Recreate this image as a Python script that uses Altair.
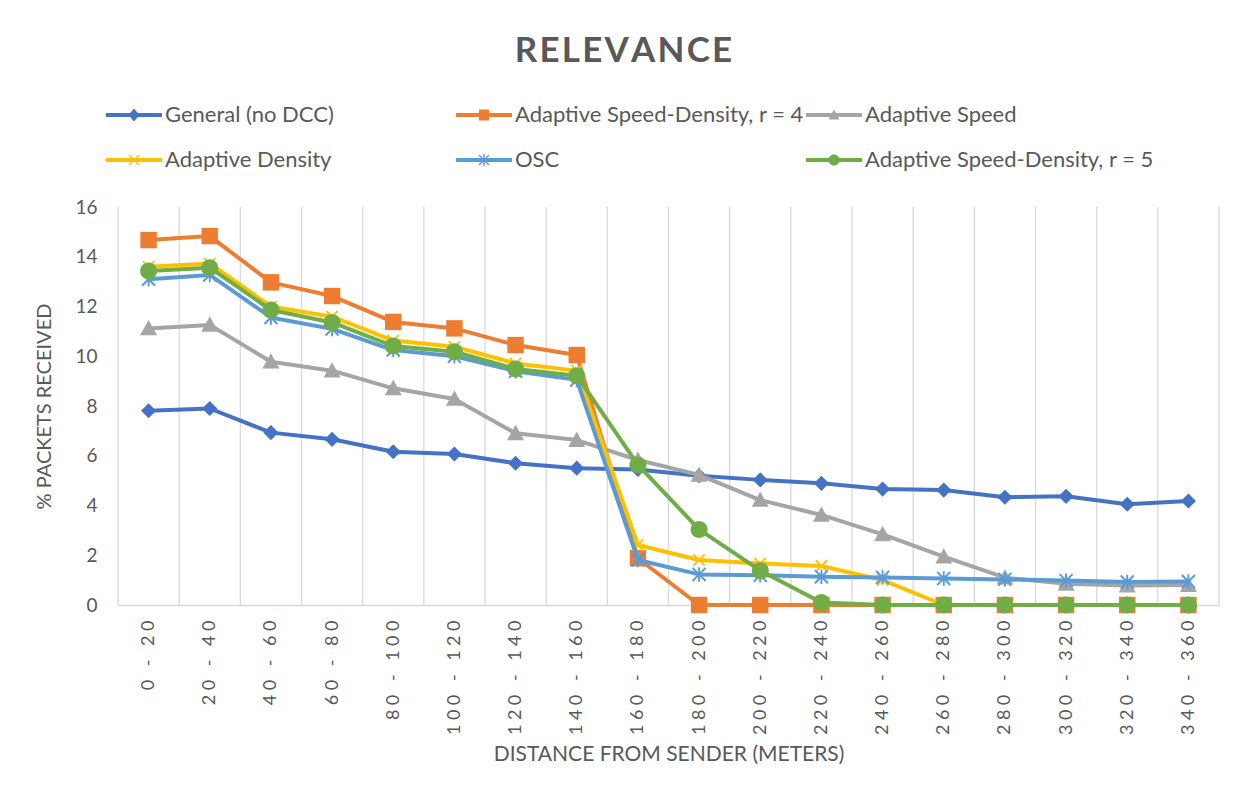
import altair as alt
import pandas as pd

categories = ["0 - 20", "20 - 40", "40 - 60", "60 - 80", "80 - 100", "100 - 120",
              "120 - 140", "140 - 160", "160 - 180", "180 - 200", "200 - 220", "220 - 240",
              "240 - 260", "260 - 280", "280 - 300", "300 - 320", "320 - 340", "340 - 360"]

series_names = ["General (no DCC)", "Adaptive Speed-Density, r = 4", "Adaptive Speed",
                "Adaptive Density", "OSC", "Adaptive Speed-Density, r = 5"]

general = [7.81, 7.90, 6.93, 6.66, 6.16, 6.07, 5.70, 5.50, 5.45, 5.20, 5.03, 4.89, 4.66, 4.62, 4.33, 4.37, 4.05, 4.18]
asd_r4 = [14.67, 14.83, 12.97, 12.42, 11.38, 11.12, 10.45, 10.05, 1.88, 0, 0, 0, 0, 0, 0, 0, 0, 0]
adaptive_speed = [11.12, 11.26, 9.78, 9.42, 8.71, 8.28, 6.90, 6.63, 5.83, 5.23, 4.22, 3.62, 2.84, 1.94, 1.10, 0.85, 0.78, 0.80]
adaptive_density = [13.60, 13.73, 12.00, 11.59, 10.63, 10.38, 9.71, 9.42, 2.41, 1.81, 1.67, 1.57, 1.00, 0, 0, 0, 0, 0]
osc = [13.10, 13.27, 11.56, 11.10, 10.25, 10.00, 9.40, 9.05, 1.81, 1.23, 1.20, 1.14, 1.11, 1.07, 1.03, 0.98, 0.92, 0.94]
asd_r5 = [13.43, 13.56, 11.86, 11.36, 10.41, 10.18, 9.49, 9.22, 5.63, 3.04, 1.38, 0.10, 0, 0, 0, 0, 0, 0]

series_values = [general, asd_r4, adaptive_speed, adaptive_density, osc, asd_r5]
colors = ["#4472C4", "#ED7D31", "#A5A5A5", "#FFC000", "#5B9BD5", "#70AD47"]

# marker shapes (unit square -1..1)
DIAMOND = "M0,-1L1,0L0,1L-1,0Z"
SQUARE = "M-1,-1L1,-1L1,1L-1,1Z"
TRIANGLE = "M0,-1L1,0.8L-1,0.8Z"
CIRCLE = "M1,0A1,1,0,1,1,-1,0A1,1,0,1,1,1,0Z"
XMARK = "M-1,-0.8L-0.8,-1L1,0.8L0.8,1Z M0.8,-1L1,-0.8L-0.8,1L-1,0.8Z"
ASTER = XMARK + " M-0.13,-1L0.13,-1L0.13,1L-0.13,1Z"
marker_paths = [DIAMOND, SQUARE, TRIANGLE, XMARK, ASTER, CIRCLE]
marker_sizes = [230, 270, 289, 160, 210, 289]

LINE = "M-5.6,-0.4L5.6,-0.4L5.6,0.4L-5.6,0.4Z"
XL = "M-1.1,-0.9L-0.9,-1.1L1.1,0.9L0.9,1.1Z M0.9,-1.1L1.1,-0.9L-0.9,1.1L-1.1,0.9Z"
legend_paths = [LINE + " M0,-1.3L1.1,0L0,1.3L-1.1,0Z",
                LINE + " M-1,-1.1L1,-1.1L1,1.1L-1,1.1Z",
                LINE + " M0,-1.1L1.1,0.9L-1.1,0.9Z",
                LINE + " " + XL,
                LINE + " " + XL + " M-0.15,-1.2L0.15,-1.2L0.15,1.2L-0.15,1.2Z",
                LINE + " M1.1,0A1.1,1.1,0,1,1,-1.1,0A1.1,1.1,0,1,1,1.1,0Z"]

rows = []
for name, vals in zip(series_names, series_values):
    for i, v in enumerate(vals):
        rows.append({"idx": i, "cat": categories[i], "series": name, "value": v})
df = pd.DataFrame(rows)

grid_df = pd.DataFrame({"b": [i - 0.5 for i in range(len(categories) + 1)]})

FONT = "Lato"
TXT = "#595959"
SP = "\u2005"
spaced = [SP.join(list(c)) for c in categories]
label_expr = "[" + ",".join("'" + s + "'" for s in spaced) + "][datum.value]"

x_scale = alt.Scale(domain=[-0.5, len(categories) - 0.5], nice=False, zero=False)
x_axis = alt.Axis(values=list(range(len(categories))), labelExpr=label_expr, labelAngle=270,
                  grid=False, ticks=False, domain=True, domainColor="#D9D9D9", domainWidth=1.3,
                  labelPadding=15, labelFontSize=18, labelFont=FONT, labelColor=TXT,
                  labelOverlap=False, labelFlush=False,
                  title="DISTANCE FROM SENDER (METERS)", titleFont=FONT, titleFontSize=21,
                  titleFontWeight="normal", titleColor=TXT, titlePadding=9)
y_scale = alt.Scale(domain=[0, 16], nice=False, zero=True)
y_axis = alt.Axis(values=list(range(0, 17, 2)), grid=False, ticks=False, domain=False,
                  labelPadding=21, labelFontSize=19, labelFont=FONT, labelColor=TXT,
                  title="% PACKETS RECEIVED", titleFont=FONT, titleFontSize=20,
                  titleFontWeight="normal", titleColor=TXT, titlePadding=20)

X = alt.X("idx:Q", scale=x_scale, axis=x_axis)
Y = alt.Y("value:Q", scale=y_scale, axis=y_axis)

layers = []
layers.append(alt.Chart(grid_df).mark_rule(color="#D9D9D9", strokeWidth=1.3).encode(
    x=alt.X("b:Q", scale=x_scale, axis=x_axis)))

for name, col, path, size in zip(series_names, colors, marker_paths, marker_sizes):
    sub = alt.Chart(df).transform_filter(alt.datum.series == name)
    layers.append(sub.mark_line(color=col, strokeWidth=4, strokeJoin="round", strokeCap="round").encode(x=X, y=Y))
    layers.append(sub.mark_point(filled=True, opacity=1, color=col, shape=path, size=size, strokeWidth=0).encode(x=X, y=Y))

leg = alt.Legend(title=None, orient="none", legendX=5, legendY=-103, columns=3, direction="horizontal",
                 gridAlign="all", columnPadding=2, rowPadding=23, symbolSize=100, labelOffset=20,
                 padding=0, labelFontSize=22, labelFont=FONT, labelColor=TXT, labelLimit=500,
                 symbolStrokeWidth=0, symbolOpacity=1)
layers.append(alt.Chart(df).transform_filter("datum.value < -1").mark_point(filled=True, opacity=1, size=100).encode(
    x=X, y=Y,
    color=alt.Color("series:N", scale=alt.Scale(domain=series_names, range=colors), legend=leg),
    shape=alt.Shape("series:N", scale=alt.Scale(domain=series_names, range=legend_paths), legend=leg)))

title_text = "\u200a".join(list("RELEVANCE"))
chart = alt.layer(*layers).properties(
    width=1101, height=398,
    title=alt.TitleParams(text=title_text, font=FONT, fontSize=35, fontWeight="bold", color=TXT,
                          anchor="middle", frame="group", dx=-45, offset=35),
    autosize=alt.AutoSizeParams(type="none"),
    padding={"left": 110, "top": 199, "right": 12, "bottom": 170},
    background="white",
).configure_view(stroke=None)

chart.save("out.html", embed_options={"renderer": "svg", "actions": False})
